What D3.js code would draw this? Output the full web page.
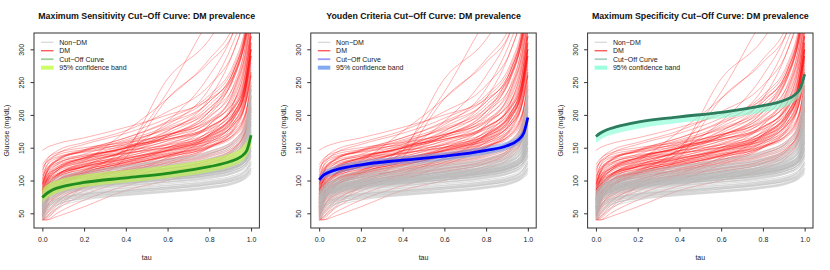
<!DOCTYPE html>
<html>
<head>
<meta charset="utf-8">
<script src="https://cdn.jsdelivr.net/npm/d3@7"></script>
<style>
html,body{margin:0;padding:0;background:#fff;}
svg{display:block;}
text{font-family:"Liberation Sans",Arial,Helvetica,sans-serif;}
</style>
</head>
<body>
<svg id="chart" width="830" height="270"></svg>
<script>
// ---------------- DATA ----------------
// tau grid at which each individual glucose quantile curve is read
const tau = [0, 0.02, 0.07, 0.2, 0.4, 0.6, 0.8, 0.92, 0.97, 1];

// Non-DM individual curves (mg/dL) at tau grid
const nonDM = [
  [40,52,66,76,82,87,93,100,106,118],[42,58,70,79,85,90,96,103,110,125],[48,62,72,81,88,93,99,106,114,130],
  [45,60,74,83,89,95,101,108,115,128],[55,66,76,85,91,97,103,111,118,136],[50,64,78,87,93,98,104,112,121,140],
  [60,70,80,88,94,100,106,113,120,133],[52,68,80,89,95,101,108,116,125,150],[58,72,82,90,96,102,109,118,128,145],
  [62,74,83,91,97,103,110,119,130,160],[47,66,80,90,97,104,111,121,133,170],[65,76,85,92,98,104,111,120,129,142],
  [56,71,83,92,99,105,112,121,131,155],[70,79,87,94,100,106,113,121,130,148],[60,75,86,94,101,107,114,124,136,180],
  [53,70,84,93,101,108,115,125,137,165],[66,78,88,96,102,108,116,126,139,175],[72,81,89,97,103,110,117,127,138,158],
  [58,74,87,96,103,110,118,129,142,190],[68,80,90,98,105,111,119,130,145,205],[75,84,92,99,105,112,120,131,144,170],
  [62,77,89,98,106,113,121,133,148,185],[70,82,92,100,107,114,122,134,150,215],[78,86,94,101,108,115,124,136,152,195],
  [64,80,92,101,109,116,125,138,155,240],[73,84,94,103,110,118,127,140,158,210],[80,88,96,104,111,119,128,141,160,225],
  [68,83,95,104,112,120,130,144,163,200],[76,87,97,106,114,122,132,146,166,235],[82,90,99,108,116,124,134,148,168,190],
  [71,86,98,108,117,126,137,152,172,230],[85,92,101,110,119,128,139,155,175,245],[78,89,100,110,120,130,141,158,180,220],
  [88,95,104,113,122,131,143,160,182,250],[43,56,68,78,84,90,97,104,112,123],[40,48,62,74,81,87,94,101,109,120],
  [50,60,71,80,86,92,98,105,113,127],[57,67,77,86,92,98,105,113,122,138],[63,72,82,90,96,101,108,116,124,137],
  [49,65,79,88,95,101,107,115,124,146],[59,73,84,92,98,104,110,118,127,150],[67,77,86,93,99,105,112,120,128,144],
  [54,69,82,91,98,104,111,119,128,152],[61,75,85,93,100,106,112,120,129,162],[69,80,88,95,101,107,114,123,133,156],
  [57,73,86,95,102,108,115,124,134,168],[64,78,88,96,103,109,116,125,135,172],[74,83,90,97,104,110,117,126,136,160],
  [66,79,90,99,106,112,119,129,141,178],[72,83,92,100,107,113,121,131,143,188],[60,76,89,99,106,113,121,132,146,200],
  [77,86,94,102,109,116,124,135,149,182],[70,84,95,104,111,118,126,137,151,196],[81,89,97,105,112,119,127,138,153,212],
  [66,82,95,105,113,121,130,143,160,228],[84,91,99,107,115,123,132,145,162,205],[74,87,98,108,116,124,133,147,165,218],
  [90,97,105,114,123,133,145,162,185,240],[80,91,102,112,121,131,142,157,176,233],[44,53,64,72,78,83,89,96,103,112],
  [40,45,58,70,77,82,88,95,102,110],[46,57,67,75,80,85,91,98,105,115],[51,59,69,77,83,88,94,100,107,117],
  [40,50,63,73,79,84,90,97,104,114],[53,63,72,79,84,89,95,102,108,119],
  [59,71,82,90,96,102,108,116,124,140],[63,76,86,94,100,105,112,120,128,150],[67,79,88,96,102,108,114,122,131,158],
  [71,82,91,98,104,110,116,124,133,165],[55,72,85,94,100,106,113,122,132,175],[75,85,93,100,106,112,118,127,138,185]
];

// DM individual curves (mg/dL) at tau grid
const dm = [
  [146,150,156,165,181,200,224,262,310,360],[124,133,142,150,158,170,192,236,285,340],[116,128,139,147,154,163,178,205,240,300],
  [108,122,134,143,152,166,196,248,300,360],[102,118,130,139,146,154,168,190,222,275],[98,112,126,137,149,163,182,214,255,320],
  [94,110,124,134,142,150,160,178,200,245],[90,106,121,133,145,160,181,212,248,300],[87,103,118,131,141,151,164,186,215,265],
  [84,100,115,128,143,161,190,232,280,345],[82,98,113,125,135,145,157,175,198,238],[80,95,110,122,134,148,170,205,245,310],
  [78,94,108,120,131,141,153,171,195,228],[76,92,107,121,136,155,185,228,275,330],[74,90,105,117,128,139,152,170,192,260],
  [72,88,104,118,133,150,174,210,250,320],[70,86,101,114,126,137,150,168,188,222],[68,85,100,113,127,144,168,204,244,300],
  [66,83,98,111,122,132,144,162,185,218],[64,81,97,112,128,147,176,222,270,330],[62,79,94,108,119,129,141,158,180,212],
  [60,77,93,109,125,142,166,200,238,290],[58,75,91,105,116,126,138,155,176,240],[56,73,90,106,122,140,164,198,235,300],
  [54,70,87,102,114,124,136,152,172,205],[52,68,85,101,118,138,162,196,232,280],[50,66,83,99,112,122,133,150,170,230],
  [48,63,80,97,115,134,158,190,225,285],[46,60,77,95,109,119,130,147,168,200],[44,57,74,93,112,131,155,186,220,270],
  [42,54,71,90,106,117,128,145,165,210],[40,50,68,88,108,128,152,182,215,260],[40,45,62,84,103,114,126,142,162,195],
  [40,42,56,78,100,124,150,180,212,250],[40,40,50,70,92,108,122,140,160,190],[40,40,45,60,85,100,118,136,158,185],
  [40,48,66,90,110,135,170,220,270,330],[55,72,92,112,128,146,170,205,245,310],[65,84,104,122,139,157,180,215,258,330],
  [75,95,115,132,150,170,198,240,290,350],[85,105,124,140,158,180,210,258,310,370],[95,115,132,147,165,188,220,270,320,380],
  [112,130,145,158,176,205,245,300,350,400],[100,122,140,155,172,195,230,280,330,390],[88,110,130,146,165,190,226,275,325,385],
  [70,92,115,135,155,182,220,270,320,380],[60,82,106,128,150,176,215,265,315,375],[50,72,98,122,145,172,210,262,312,370],
  [45,65,90,115,140,168,205,258,310,365],[80,100,118,134,150,168,200,262,315,370],[68,88,108,126,145,168,205,270,320,380],
  [90,112,130,145,162,185,240,315,360,400],[78,99,118,134,152,175,225,300,350,400],[60,78,96,115,130,150,185,240,300,360],
  [58,76,94,110,124,138,158,190,230,290],[73,91,109,124,137,151,170,200,236,295],[83,102,120,135,150,166,188,222,262,320],
  [93,113,131,145,160,178,205,245,290,350],[70,88,106,121,133,146,166,196,232,290],[62,80,99,116,130,145,168,202,242,305],
  [52,70,90,108,123,138,160,195,238,300],[43,58,80,100,117,132,150,178,212,260],[48,60,76,92,104,114,126,148,175,215],
  [57,70,83,97,108,118,131,150,172,208],[66,80,93,105,116,127,140,160,183,226],[76,88,100,112,124,136,151,172,198,245],
  [86,98,110,121,133,146,162,186,214,265],[96,107,118,129,141,155,173,200,232,290],[106,117,127,137,149,163,182,212,246,310],
  [120,128,136,144,156,170,190,220,258,320],[60,75,90,110,145,255,315,380,420,450],[55,70,88,112,150,235,345,400,430,460],
  [40,44,58,92,135,225,280,330,380,420],[85,100,115,130,175,225,285,340,390,430],[72,90,108,124,146,190,260,330,380,420]
];

// cut-off curves and 95% bands
const cutTau = [0, 0.02, 0.05, 0.1, 0.2, 0.4, 0.6, 0.8, 0.9, 0.95, 0.98, 1];
const sensCut = [74, 80, 86, 91, 97, 104, 111, 121, 129, 136, 146, 169];
const sensLo  = [66, 72, 78, 84, 90, 97, 104, 113, 121, 128, 137, 152];
const sensHi  = [88, 93, 98, 103, 109, 116, 123, 133, 141, 149, 160, 171];
const youdCut = [101, 108, 113, 118, 124, 131, 137, 146, 153, 161, 172, 196];
const youdLo  = [96, 102, 107, 112, 118, 125, 131, 140, 147, 155, 165, 186];
const youdHi  = [107, 114, 119, 124, 130, 137, 143, 152, 159, 167, 179, 200];
const specCut = [167, 172, 177, 182, 189, 197, 204, 214, 222, 230, 241, 262];
const specLo  = [157, 162, 167, 172, 179, 188, 195, 204, 212, 220, 231, 248];
const specHi  = [171, 175, 179, 184, 191, 199, 206, 216, 224, 232, 243, 264];

const titles = [
  "Maximum Sensitivity Cut\u2212Off Curve: DM prevalence",
  "Youden Criteria Cut\u2212Off Curve: DM prevalence",
  "Maximum Specificity Cut\u2212Off Curve: DM prevalence"
];
const legendLabels = ["Non\u2212DM", "DM", "Cut\u2212Off Curve", "95% confidence band"];
const xTicks = [0, 0.2, 0.4, 0.6, 0.8, 1.0];
const yTicks = [50, 100, 150, 200, 250, 300];

// ---------------- DRAW ----------------
const svg = d3.select("#chart");
const panels = [
  {cut: sensCut, lo: sensLo, hi: sensHi, line: "#1f8c1f", band: "#c0ff3e", bandOp: 0.55, legLine: "#9dcf9d"},
  {cut: youdCut, lo: youdLo, hi: youdHi, line: "#0000ff", band: "#6495ed", bandOp: 0.5, legLine: "#9a9aff"},
  {cut: specCut, lo: specLo, hi: specHi, line: "#2e7b5e", band: "#7fffd4", bandOp: 0.6, legLine: "#a8cfc0"}
];

const boxW = 225.4, boxTop = 33, boxBot = 228;
const FONT_AX = 7;

panels.forEach((p, i) => {
  const left = 34 + i * 276.8;
  const g = svg.append("g");
  const x = d3.scaleLinear().domain([-0.04, 1.04]).range([left, left + boxW]);
  const y = d3.scaleLinear().domain([27.6, 324.85]).range([boxBot, boxTop]);

  const clipId = "clip" + i;
  svg.append("clipPath").attr("id", clipId).append("rect")
    .attr("x", left).attr("y", boxTop).attr("width", boxW).attr("height", boxBot - boxTop);

  const plot = g.append("g").attr("clip-path", `url(#${clipId})`);
  const line = d3.line().x((d, k) => x(tau[k])).y(d => y(d)).curve(d3.curveMonotoneX);

  plot.append("g").selectAll("path").data(dm).join("path")
    .attr("d", line).attr("fill", "none")
    .attr("stroke", "#ff0000").attr("stroke-opacity", 0.4).attr("stroke-width", 0.75);

  plot.append("g").selectAll("path").data(nonDM).join("path")
    .attr("d", line).attr("fill", "none")
    .attr("stroke", "#bababa").attr("stroke-opacity", 0.48).attr("stroke-width", 1);

  const area = d3.area().x((d, k) => x(cutTau[k])).y0((d, k) => y(p.lo[k])).y1((d, k) => y(p.hi[k]))
    .curve(d3.curveMonotoneX);
  plot.append("path").datum(p.cut).attr("d", area)
    .attr("fill", p.band).attr("fill-opacity", p.bandOp);

  const cline = d3.line().x((d, k) => x(cutTau[k])).y(d => y(d)).curve(d3.curveMonotoneX);
  plot.append("path").datum(p.cut).attr("d", cline).attr("fill", "none")
    .attr("stroke", p.line).attr("stroke-width", 2.8);

  // box
  g.append("rect").attr("x", left).attr("y", boxTop).attr("width", boxW).attr("height", boxBot - boxTop)
    .attr("fill", "none").attr("stroke", "#333").attr("stroke-width", 1);

  // x axis
  const xa = g.append("g").attr("transform", `translate(0,${boxBot})`)
    .call(d3.axisBottom(x).tickValues(xTicks).tickSize(3.5).tickFormat(d3.format(".1f")));
  xa.select(".domain").remove();
  xa.selectAll(".tick line").attr("stroke", "#333");
  xa.selectAll(".tick text").attr("y", 9).attr("font-size", FONT_AX).attr("fill", "#222")
    .attr("font-family", '"Liberation Sans",Arial,sans-serif');

  // y axis
  const ya = g.append("g").attr("transform", `translate(${left},0)`)
    .call(d3.axisLeft(y).tickValues(yTicks).tickSize(3.5));
  ya.select(".domain").remove();
  ya.selectAll(".tick line").attr("stroke", "#333");
  ya.selectAll(".tick text")
    .attr("x", 0).attr("dy", 0).attr("text-anchor", "middle")
    .attr("transform", "translate(-9.8,0) rotate(-90)")
    .attr("font-size", FONT_AX).attr("fill", "#222")
    .attr("font-family", '"Liberation Sans",Arial,sans-serif');

  // titles and axis labels
  g.append("text").attr("x", left + boxW / 2).attr("y", 19.2).attr("text-anchor", "middle")
    .attr("font-size", 8.8).attr("font-weight", "bold").attr("fill", "#111").text(titles[i]);
  g.append("text").attr("x", x(0.5)).attr("y", 259.8).attr("text-anchor", "middle")
    .attr("font-size", FONT_AX).attr("fill", "#222").text("tau");
  g.append("text").attr("transform", `translate(${left - 24.8},${(boxTop + boxBot) / 2}) rotate(-90)`)
    .attr("text-anchor", "middle").attr("font-size", FONT_AX).attr("fill", "#222").text("Glucose (mg/dL)");

  // legend
  const legColors = ["#d6d6d6", "#ff4040", p.legLine, p.band];
  const legWidths = [1.2, 1.2, 1.8, 4];
  const legOp = [1, 1, 1, 0.8];
  legendLabels.forEach((lab, k) => {
    const ly = 42.3 + k * 8.45;
    g.append("line").attr("x1", left + 7).attr("x2", left + 19.5).attr("y1", ly).attr("y2", ly)
      .attr("stroke", legColors[k]).attr("stroke-width", legWidths[k]).attr("stroke-opacity", legOp[k]);
    g.append("text").attr("x", left + 25.3).attr("y", ly + 2.5).attr("font-size", FONT_AX)
      .attr("fill", "#222").text(lab);
  });
});
</script>
</body>
</html>
